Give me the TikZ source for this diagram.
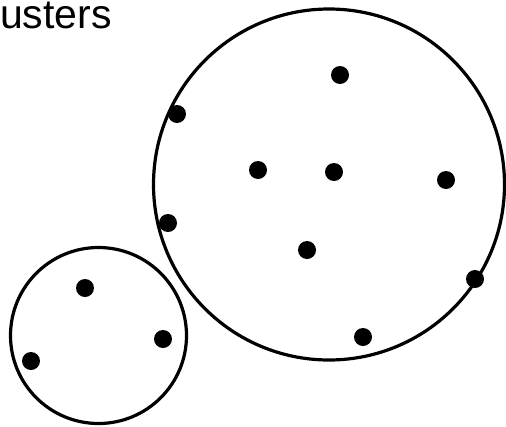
\documentclass[tikz,border=0pt]{standalone}
\usepackage{fontspec}
\setmainfont{Liberation Sans}
\begin{document}
\begin{tikzpicture}[x=1pt,y=-1pt,
  ring/.style={draw=black,line width=3.2pt},
  pt/.style={circle,fill=black,inner sep=0pt,minimum size=18pt}]
\useasboundingbox (0,0) rectangle (506,426);
\node[anchor=base west,inner sep=0pt,font=\fontsize{41}{46}\selectfont] (lbl) at (0,28.3) {usters};
\draw[ring] (329,184.5) circle (175.5);
\draw[ring] (98.5,335.5) circle (88);
\node[pt] (b1) at (340,75) {};
\node[pt] (b2) at (177,114) {};
\node[pt] (b3) at (258,170) {};
\node[pt] (b4) at (334,172) {};
\node[pt] (b5) at (446,180) {};
\node[pt] (b6) at (168,223) {};
\node[pt] (b7) at (307,250) {};
\node[pt] (b8) at (475,279) {};
\node[pt] (b9) at (363,337) {};
\node[pt] (s1) at (85,288) {};
\node[pt] (s2) at (163,339) {};
\node[pt] (s3) at (31,361) {};
\end{tikzpicture}
\end{document}
